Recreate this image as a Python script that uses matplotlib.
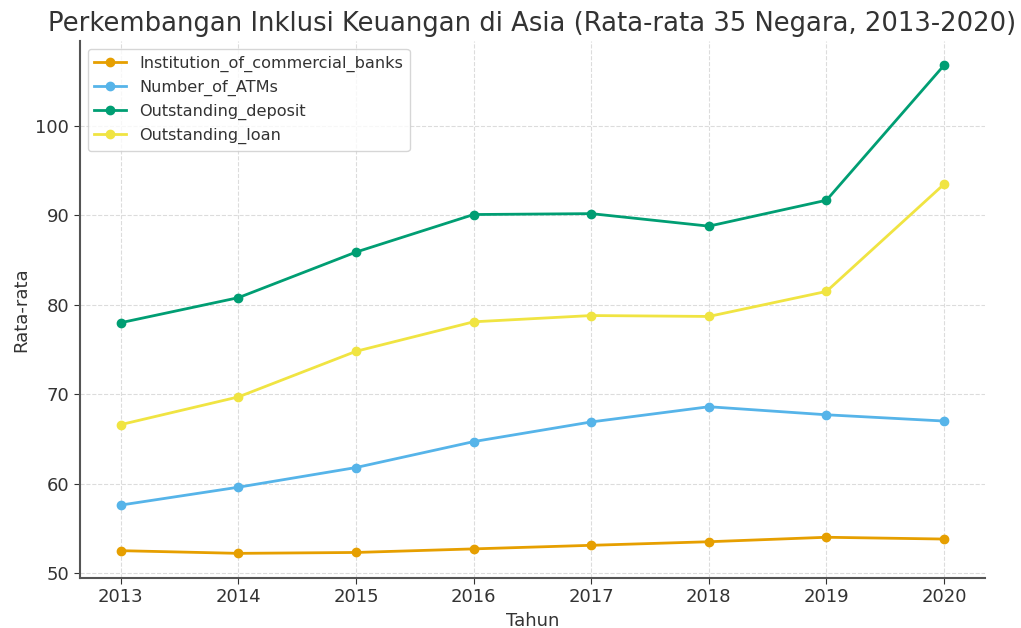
import matplotlib
matplotlib.use('Agg')
import matplotlib.pyplot as plt

years = [2013, 2014, 2015, 2016, 2017, 2018, 2019, 2020]
banks = [52.5, 52.2, 52.3, 52.7, 53.1, 53.5, 54.0, 53.8]
atms = [57.6, 59.6, 61.8, 64.7, 66.9, 68.6, 67.7, 67.0]
deposit = [78.0, 80.8, 85.9, 90.1, 90.2, 88.8, 91.7, 106.8]
loan = [66.6, 69.7, 74.8, 78.1, 78.8, 78.7, 81.5, 93.5]

series = [
    ('Institution_of_commercial_banks', banks, '#E69F00'),
    ('Number_of_ATMs', atms, '#56B4E9'),
    ('Outstanding_deposit', deposit, '#009E73'),
    ('Outstanding_loan', loan, '#F0E442'),
]

text_col = '#333333'

fig = plt.figure(figsize=(10.21, 6.28), dpi=100)
ax = fig.add_axes([0.078, 0.08, 0.887, 0.855])

for name, vals, col in series:
    ax.plot(years, vals, marker='o', color=col, label=name, linewidth=2, markersize=6)

ax.set_title('Perkembangan Inklusi Keuangan di Asia (Rata-rata 35 Negara, 2013-2020)',
             fontsize=18.6, color=text_col, pad=7)
ax.set_xlabel('Tahun', fontsize=13, color=text_col)
ax.set_ylabel('Rata-rata', fontsize=13, color=text_col)
ax.set_yticks([50, 60, 70, 80, 90, 100])
ax.tick_params(labelsize=13, colors=text_col, length=4)
ax.grid(True, linestyle='--', color='#dcdcdc', linewidth=0.8)
for s in ['top', 'right']:
    ax.spines[s].set_visible(False)
for s in ['left', 'bottom']:
    ax.spines[s].set_color('#555555')
    ax.spines[s].set_linewidth(1.5)

leg = ax.legend(loc='upper left', fontsize=11.6, frameon=True)
for t in leg.get_texts():
    t.set_color(text_col)

fig.savefig('out.png', dpi=100)
